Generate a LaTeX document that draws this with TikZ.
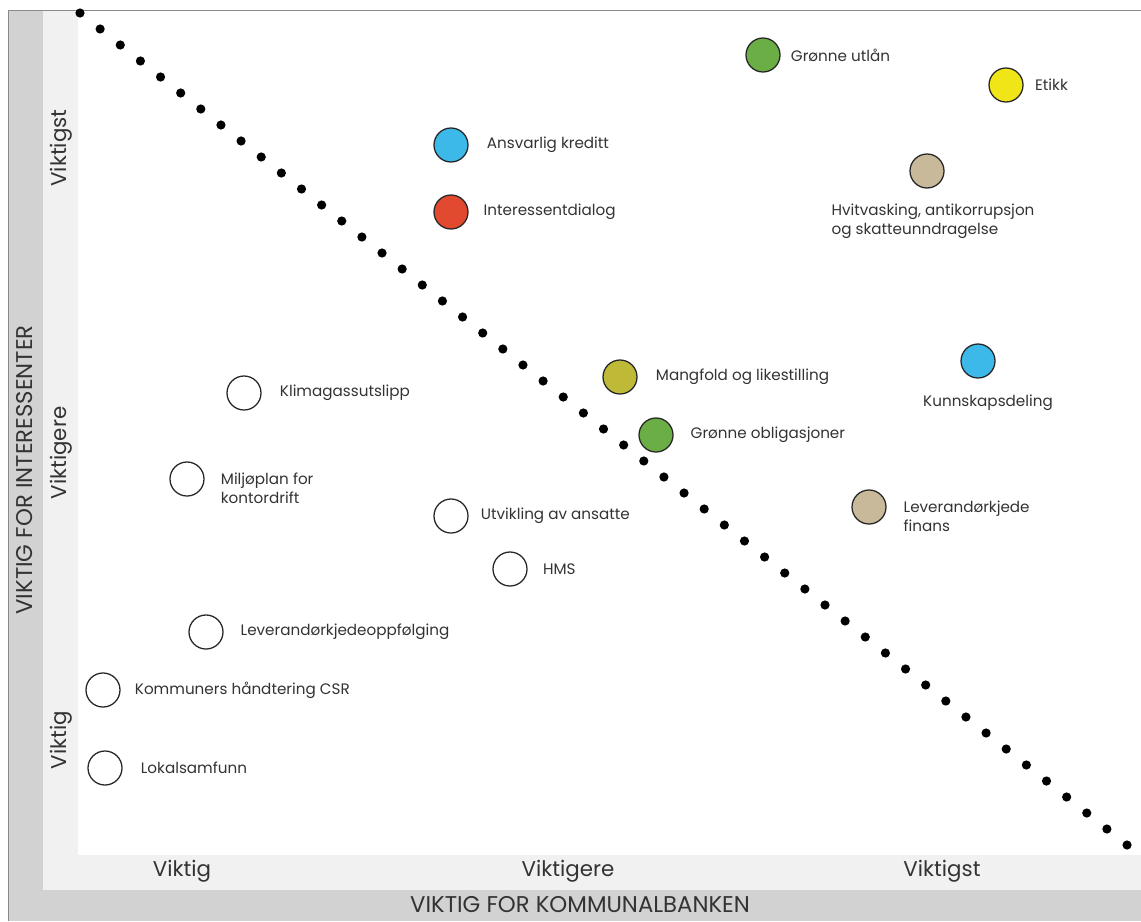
\documentclass[tikz,border=0pt]{standalone}
\usepackage{fontspec}
\setmainfont{Poppins}
\usepackage{xcolor}
\usetikzlibrary{positioning}

\definecolor{bandlight}{HTML}{F1F1F1}
\definecolor{banddark}{HTML}{D2D2D2}
\definecolor{framegray}{HTML}{8A8A8A}
\definecolor{txtgray}{HTML}{333333}
\definecolor{cgreen}{HTML}{6AAE45}
\definecolor{cyellow}{HTML}{F0E516}
\definecolor{cblue}{HTML}{3CB9E8}
\definecolor{cred}{HTML}{E24A30}
\definecolor{ctan}{HTML}{C9B99B}
\definecolor{colive}{HTML}{BEB937}

\begin{document}
\begin{tikzpicture}[x=0.025cm,y=-0.025cm,node distance=0.4cm,
    issue/.style={circle,draw=black!85,line width=0.9pt,minimum size=0.85cm,inner sep=0pt},
    lbl/.style={inner sep=0pt,font=\fontsize{10.8}{13.5}\selectfont,text=txtgray,align=left},
    scalelbl/.style={inner sep=0pt,font=\fontsize{15.2}{17}\selectfont,text=txtgray},
    axtitle/.style={inner sep=0pt,font=\fontsize{16.2}{18}\selectfont,text=txtgray}]
    % bakgrunn og akser
    \useasboundingbox (0,0) rectangle (1141,921);
    \fill[white] (0,0) rectangle (1141,921);
    \fill[bandlight] (43,10) rectangle (78,890);
    \fill[bandlight] (43,855) rectangle (1141,890);
    \fill[banddark] (8,10) rectangle (43,921);
    \fill[banddark] (43,890) rectangle (1141,921);
    \draw[framegray,line width=0.6pt] (8,921) -- (8,10) -- (1141,10);

    \node[axtitle,rotate=90] (ytitle) at (25,470) {VIKTIG FOR INTERESSENTER};
    \node[axtitle] (xtitle) at (580,905) {VIKTIG FOR KOMMUNALBANKEN};
    \node[scalelbl,rotate=90] (y3) at (61,148) {Viktigst};
    \node[scalelbl,rotate=90] (y2) at (61,453) {Viktigere};
    \node[scalelbl,rotate=90] (y1) at (61,740) {Viktig};
    \node[scalelbl] (x1) at (182,871) {Viktig};
    \node[scalelbl] (x2) at (568,871) {Viktigere};
    \node[scalelbl] (x3) at (942,871) {Viktigst};

    % prikket diagonal
    \foreach \i in {0,...,52}
        \fill ({80+\i*20.135},{13+\i*16}) circle (0.115cm);

    % temaer
    \node[issue,fill=cgreen] (utlan) at (763,55) {};
    \node[lbl,right=0.25cm of utlan] (utlanl) {Grønne utlån};
    \node[issue,fill=cyellow] (etikk) at (1006,85) {};
    \node[lbl,right=0.28cm of etikk] (etikkl) {Etikk};
    \node[issue,fill=cblue] (kreditt) at (451,145) {};
    \node[lbl,right=0.45cm of kreditt] (kredittl) {Ansvarlig kreditt};
    \node[issue,fill=cred] (dialog) at (451,212) {};
    \node[lbl,right=0.37cm of dialog] (dialogl) {Interessentdialog};
    \node[issue,fill=ctan] (hvit) at (927,171) {};
    \node[lbl,below=0.38cm of hvit,xshift=0.15cm] (hvitl) {Hvitvasking, antikorrupsjon\\og skatteunndragelse};
    \node[issue,fill=colive] (mangfold) at (620,377) {};
    \node[lbl,right=0.45cm of mangfold] (mangfoldl) {Mangfold og likestilling};
    \node[issue,fill=cblue] (kunnskap) at (978,361) {};
    \node[lbl,below=0.4cm of kunnskap,xshift=0.25cm] (kunnskapl) {Kunnskapsdeling};
    \node[issue,fill=cgreen] (oblig) at (656,435) {};
    \node[lbl,right=0.42cm of oblig] (obligl) {Grønne obligasjoner};
    \node[issue,fill=white] (klima) at (244,393) {};
    \node[lbl,right=0.45cm of klima] (klimal) {Klimagassutslipp};
    \node[issue,fill=white] (miljo) at (187,479) {};
    \node[lbl,right=0.4cm of miljo,yshift=-0.24cm] (miljol) {Miljøplan for\\kontordrift};
    \node[issue,fill=white] (ansatte) at (451,516) {};
    \node[lbl,right=0.3cm of ansatte] (ansattel) {Utvikling av ansatte};
    \node[issue,fill=white] (hms) at (510,569) {};
    \node[lbl,right=0.38cm of hms] (hmsl) {HMS};
    \node[issue,fill=ctan] (levfin) at (869,507) {};
    \node[lbl,right=0.42cm of levfin,yshift=-0.22cm] (levfinl) {Leverandørkjede\\finans};
    \node[issue,fill=white] (levopp) at (206,632) {};
    \node[lbl,right=0.42cm of levopp] (levoppl) {Leverandørkjedeoppfølging};
    \node[issue,fill=white] (csr) at (103,690) {};
    \node[lbl,right=0.35cm of csr] (csrl) {Kommuners håndtering CSR};
    \node[issue,fill=white] (lokal) at (105,768) {};
    \node[lbl,right=0.45cm of lokal] (lokall) {Lokalsamfunn};
\end{tikzpicture}
\end{document}
